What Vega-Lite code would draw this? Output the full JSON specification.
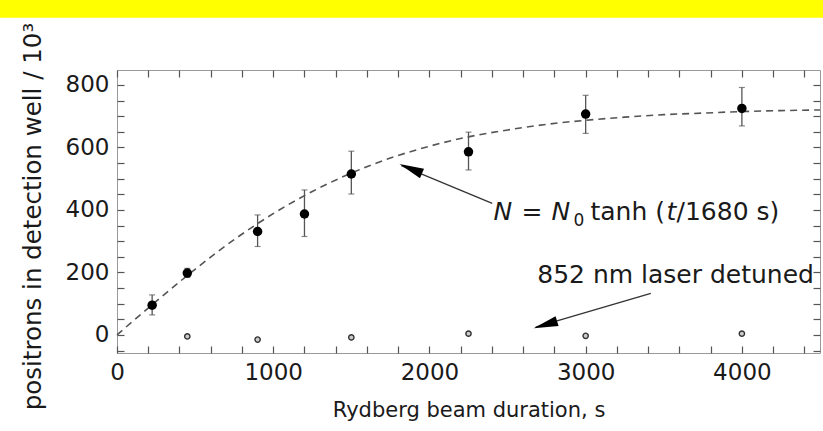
{
  "$schema": "https://vega.github.io/schema/vega-lite/v6.json",
  "width": 703,
  "height": 283,
  "autosize": {"type": "none"},
  "padding": {"left": 117, "top": 70, "right": 3, "bottom": 78},
  "background": "white",
  "config": {"view": {"stroke": "#999999", "strokeWidth": 1}, "font": "DejaVu Sans"},
  "datasets": {
    "tuned": [
      {"t": 225, "N": 95, "lo": 64, "hi": 128},
      {"t": 450, "N": 198, "lo": 184, "hi": 213},
      {"t": 900, "N": 331, "lo": 283, "hi": 384},
      {"t": 1200, "N": 387, "lo": 315, "hi": 464},
      {"t": 1500, "N": 515, "lo": 451, "hi": 588},
      {"t": 2250, "N": 586, "lo": 528, "hi": 649},
      {"t": 3000, "N": 707, "lo": 645, "hi": 767},
      {"t": 4000, "N": 725, "lo": 669, "hi": 792}
    ],
    "detuned": [
      {"t": 450, "N": -5, "lo": -11, "hi": 1},
      {"t": 900, "N": -15, "lo": -21, "hi": -9},
      {"t": 1500, "N": -8, "lo": -17, "hi": 1},
      {"t": 2250, "N": 4, "lo": -2, "hi": 10},
      {"t": 3000, "N": -3, "lo": -9, "hi": 3},
      {"t": 4000, "N": 4, "lo": -2, "hi": 10}
    ],
    "fit": [
      {"t": 0, "N": 0}, {"t": 250, "N": 107}, {"t": 500, "N": 210}, {"t": 750, "N": 305},
      {"t": 1000, "N": 388}, {"t": 1250, "N": 459}, {"t": 1500, "N": 518}, {"t": 1750, "N": 566},
      {"t": 2000, "N": 604}, {"t": 2250, "N": 634}, {"t": 2500, "N": 656}, {"t": 2750, "N": 674},
      {"t": 3000, "N": 687}, {"t": 3250, "N": 697}, {"t": 3500, "N": 705}, {"t": 3750, "N": 710},
      {"t": 4000, "N": 715}, {"t": 4250, "N": 718}, {"t": 4500, "N": 720}
    ]
  },
  "resolve": {"axis": {"x": "independent", "y": "independent"}},
  "layer": [
    {
      "data": {"values": [{}]},
      "mark": {"type": "rect", "color": "#FFFF00", "clip": false},
      "encoding": {
        "x": {"datum": -800, "type": "quantitative", "axis": null},
        "x2": {"datum": 4700},
        "y": {"datum": 1015, "type": "quantitative", "axis": null},
        "y2": {"datum": 1200}
      }
    },
    {
      "data": {"values": [{"t": 225, "N": 95}]},
      "mark": {"type": "point", "opacity": 0},
      "encoding": {
        "x": {
          "field": "t", "type": "quantitative",
          "scale": {"domain": [0, 4500], "nice": false, "zero": false},
          "axis": {
            "orient": "bottom",
            "zindex": 1,
            "values": [0, 200, 400, 600, 800, 1000, 1200, 1400, 1600, 1800, 2000, 2200, 2400, 2600, 2800, 3000, 3200, 3400, 3600, 3800, 4000, 4200, 4400],
            "labelExpr": "datum.value % 1000 === 0 ? datum.label : ''",
            "format": "d",
            "labelOverlap": false,
            "labelBound": false,
            "labelFlush": false,
            "domain": false,
            "grid": false,
            "ticks": true,
            "offset": -7,
            "tickSize": 7,
            "tickWidth": 1.2,
            "tickColor": "#555555",
            "labelFont": "DejaVu Sans",
            "labelFontSize": 23,
            "labelColor": "#1a1a1a",
            "labelPadding": 8,
            "title": "Rydberg beam duration, s",
            "titleFont": "DejaVu Sans",
            "titleFontSize": 21,
            "titleFontWeight": "normal",
            "titleColor": "#1a1a1a",
            "titlePadding": 15
          }
        },
        "y": {
          "field": "N", "type": "quantitative",
          "scale": {"domain": [-58, 848], "nice": false, "zero": false},
          "axis": {
            "orient": "left",
            "zindex": 1,
            "values": [-50, 0, 50, 100, 150, 200, 250, 300, 350, 400, 450, 500, 550, 600, 650, 700, 750, 800],
            "labelExpr": "datum.value % 200 === 0 ? datum.label : ''",
            "format": "d",
            "labelOverlap": false,
            "labelBound": false,
            "labelFlush": false,
            "domain": false,
            "grid": false,
            "ticks": true,
            "offset": -7,
            "tickSize": 7,
            "tickWidth": 1.2,
            "tickColor": "#555555",
            "labelFont": "DejaVu Sans",
            "labelFontSize": 23,
            "labelColor": "#1a1a1a",
            "labelPadding": 8,
            "title": "positrons in detection well / 10³",
            "titleFont": "DejaVu Sans",
            "titleFontSize": 24.5,
            "titleFontWeight": "normal",
            "titleColor": "#1a1a1a",
            "titlePadding": 20,
            "titleY": 146
          }
        }
      }
    },
    {
      "data": {"values": [{"t": 225, "N": 95}]},
      "mark": {"type": "point", "opacity": 0},
      "encoding": {
        "x": {
          "field": "t", "type": "quantitative",
          "axis": {
            "orient": "top",
            "zindex": 1,
            "values": [0, 200, 400, 600, 800, 1000, 1200, 1400, 1600, 1800, 2000, 2200, 2400, 2600, 2800, 3000, 3200, 3400, 3600, 3800, 4000, 4200, 4400],
            "labels": false, "domain": false, "grid": false, "title": null, "ticks": true,
            "offset": -7, "tickSize": 7, "tickWidth": 1.2, "tickColor": "#555555"
          }
        },
        "y": {
          "field": "N", "type": "quantitative",
          "axis": {
            "orient": "right",
            "zindex": 1,
            "values": [-50, 0, 50, 100, 150, 200, 250, 300, 350, 400, 450, 500, 550, 600, 650, 700, 750, 800],
            "labels": false, "domain": false, "grid": false, "title": null, "ticks": true,
            "offset": -7, "tickSize": 7, "tickWidth": 1.2, "tickColor": "#555555"
          }
        }
      }
    },
    {
      "data": {"name": "fit"},
      "mark": {"type": "line", "stroke": "#555555", "strokeWidth": 1.6, "strokeDash": [7, 5], "interpolate": "monotone"},
      "encoding": {
        "x": {"field": "t", "type": "quantitative", "axis": null},
        "y": {"field": "N", "type": "quantitative", "axis": null}
      }
    },
    {
      "data": {"name": "tuned"},
      "mark": {"type": "rule", "stroke": "#555555", "strokeWidth": 1.3},
      "encoding": {
        "x": {"field": "t", "type": "quantitative", "axis": null},
        "y": {"field": "lo", "type": "quantitative", "axis": null},
        "y2": {"field": "hi"}
      }
    },
    {
      "data": {"name": "tuned"},
      "mark": {"type": "tick", "orient": "horizontal", "color": "#555555", "size": 6, "thickness": 1.2},
      "encoding": {
        "x": {"field": "t", "type": "quantitative", "axis": null},
        "y": {"field": "lo", "type": "quantitative", "axis": null}
      }
    },
    {
      "data": {"name": "tuned"},
      "mark": {"type": "tick", "orient": "horizontal", "color": "#555555", "size": 6, "thickness": 1.2},
      "encoding": {
        "x": {"field": "t", "type": "quantitative", "axis": null},
        "y": {"field": "hi", "type": "quantitative", "axis": null}
      }
    },
    {
      "data": {"name": "detuned"},
      "mark": {"type": "rule", "stroke": "#555555", "strokeWidth": 1},
      "encoding": {
        "x": {"field": "t", "type": "quantitative", "axis": null},
        "y": {"field": "lo", "type": "quantitative", "axis": null},
        "y2": {"field": "hi"}
      }
    },
    {
      "data": {"name": "tuned"},
      "mark": {"type": "circle", "color": "#000000", "opacity": 1, "size": 90},
      "encoding": {
        "x": {"field": "t", "type": "quantitative", "axis": null},
        "y": {"field": "N", "type": "quantitative", "axis": null}
      }
    },
    {
      "data": {"name": "detuned"},
      "mark": {"type": "point", "shape": "circle", "filled": false, "fill": "#cccccc", "fillOpacity": 1, "stroke": "#333333", "strokeWidth": 1.4, "opacity": 1, "size": 28},
      "encoding": {
        "x": {"field": "t", "type": "quantitative", "axis": null},
        "y": {"field": "N", "type": "quantitative", "axis": null}
      }
    },
    {
      "data": {"values": [{}]},
      "mark": {"type": "rule", "stroke": "#333333", "strokeWidth": 1.3},
      "encoding": {
        "x": {"datum": 2402, "type": "quantitative", "axis": null},
        "y": {"datum": 421, "type": "quantitative", "axis": null},
        "x2": {"datum": 1820},
        "y2": {"datum": 542}
      }
    },
    {
      "data": {"values": [{}]},
      "mark": {"type": "rule", "stroke": "#333333", "strokeWidth": 1.3},
      "encoding": {
        "x": {"datum": 3417, "type": "quantitative", "axis": null},
        "y": {"datum": 133, "type": "quantitative", "axis": null},
        "x2": {"datum": 2680},
        "y2": {"datum": 25}
      }
    },
    {
      "data": {"values": [{}]},
      "mark": {"type": "point", "shape": "M0,0L-0.42,2L0.42,2Z", "filled": true, "fill": "#000000", "opacity": 1, "size": 600, "angle": 293, "strokeWidth": 0},
      "encoding": {
        "x": {"datum": 1808, "type": "quantitative", "axis": null},
        "y": {"datum": 547, "type": "quantitative", "axis": null}
      }
    },
    {
      "data": {"values": [{}]},
      "mark": {"type": "point", "shape": "M0,0L-0.42,2L0.42,2Z", "filled": true, "fill": "#000000", "opacity": 1, "size": 600, "angle": 253, "strokeWidth": 0},
      "encoding": {
        "x": {"datum": 2667, "type": "quantitative", "axis": null},
        "y": {"datum": 21, "type": "quantitative", "axis": null}
      }
    },
    {
      "data": {"values": [{}]},
      "mark": {"type": "text", "text": "852 nm laser detuned", "font": "DejaVu Sans", "fontSize": 25, "color": "#1a1a1a", "align": "left", "baseline": "alphabetic"},
      "encoding": {
        "x": {"datum": 2690, "type": "quantitative", "axis": null},
        "y": {"datum": 166, "type": "quantitative", "axis": null}
      }
    },
    {
      "data": {"values": [{}]},
      "mark": {"type": "text", "text": "N", "font": "DejaVu Sans", "fontStyle": "italic", "fontSize": 25, "color": "#1a1a1a", "align": "left", "baseline": "alphabetic", "dx": 0},
      "encoding": {
        "x": {"datum": 2410, "type": "quantitative", "axis": null},
        "y": {"datum": 368, "type": "quantitative", "axis": null}
      }
    },
    {
      "data": {"values": [{}]},
      "mark": {"type": "text", "text": "=", "font": "DejaVu Sans", "fontSize": 25, "color": "#1a1a1a", "align": "left", "baseline": "alphabetic", "dx": 28},
      "encoding": {
        "x": {"datum": 2410, "type": "quantitative", "axis": null},
        "y": {"datum": 368, "type": "quantitative", "axis": null}
      }
    },
    {
      "data": {"values": [{}]},
      "mark": {"type": "text", "text": "N", "font": "DejaVu Sans", "fontStyle": "italic", "fontSize": 25, "color": "#1a1a1a", "align": "left", "baseline": "alphabetic", "dx": 58},
      "encoding": {
        "x": {"datum": 2410, "type": "quantitative", "axis": null},
        "y": {"datum": 368, "type": "quantitative", "axis": null}
      }
    },
    {
      "data": {"values": [{}]},
      "mark": {"type": "text", "text": "0", "font": "DejaVu Sans", "fontSize": 17, "color": "#1a1a1a", "align": "left", "baseline": "alphabetic", "dx": 80, "dy": 6},
      "encoding": {
        "x": {"datum": 2410, "type": "quantitative", "axis": null},
        "y": {"datum": 368, "type": "quantitative", "axis": null}
      }
    },
    {
      "data": {"values": [{}]},
      "mark": {"type": "text", "text": "tanh (", "font": "DejaVu Sans", "fontSize": 25, "color": "#1a1a1a", "align": "left", "baseline": "alphabetic", "dx": 97},
      "encoding": {
        "x": {"datum": 2410, "type": "quantitative", "axis": null},
        "y": {"datum": 368, "type": "quantitative", "axis": null}
      }
    },
    {
      "data": {"values": [{}]},
      "mark": {"type": "text", "text": "t", "font": "DejaVu Sans", "fontStyle": "italic", "fontSize": 25, "color": "#1a1a1a", "align": "left", "baseline": "alphabetic", "dx": 173},
      "encoding": {
        "x": {"datum": 2410, "type": "quantitative", "axis": null},
        "y": {"datum": 368, "type": "quantitative", "axis": null}
      }
    },
    {
      "data": {"values": [{}]},
      "mark": {"type": "text", "text": "/1680 s)", "font": "DejaVu Sans", "fontSize": 25, "color": "#1a1a1a", "align": "left", "baseline": "alphabetic", "dx": 183},
      "encoding": {
        "x": {"datum": 2410, "type": "quantitative", "axis": null},
        "y": {"datum": 368, "type": "quantitative", "axis": null}
      }
    }
  ]
}
